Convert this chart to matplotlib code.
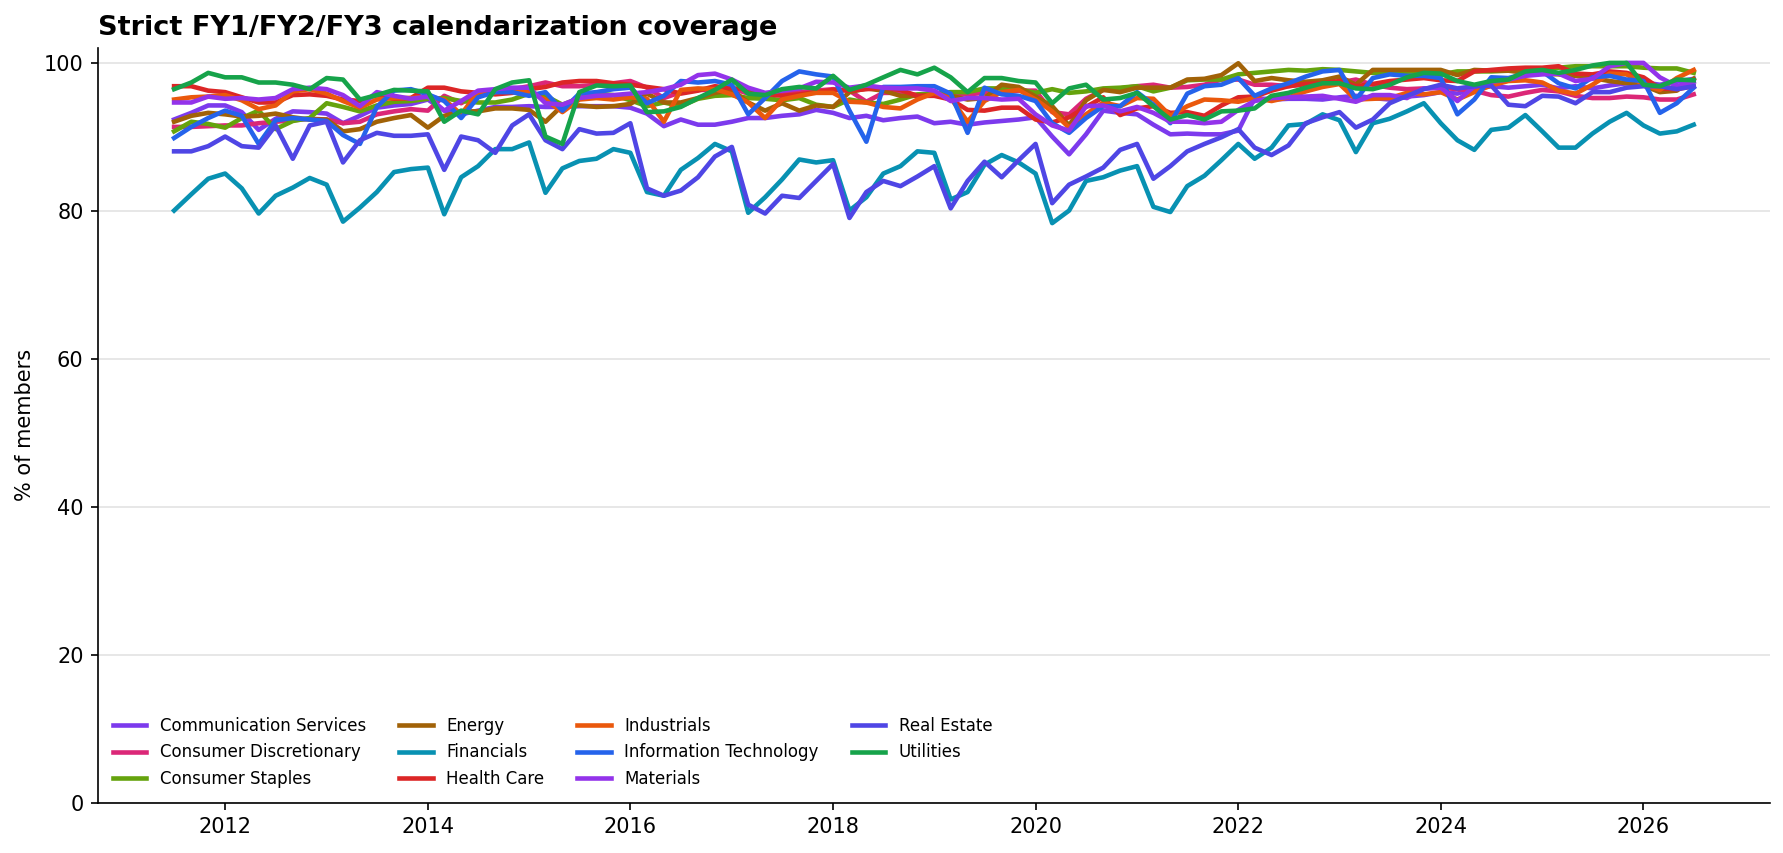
import numpy as np
import pandas as pd
import matplotlib
matplotlib.use("Agg")
import matplotlib.pyplot as plt
import matplotlib.dates as mdates

# Sampling dates: every two months, Jul 2011 .. Jul 2026
dates = pd.date_range("2011-07-01", "2026-07-01", freq="2MS")

# Coverage (% of members) per sector
comm_services = [
    92.3, 93.2, 94.2, 94.2, 93.3, 90.9, 92.4, 93.4, 93.3, 93.1, 91.8, 92.8, 93.9, 94.2, 94.4, 95.0, 93.5, 93.0, 93.5, 94.0, 94.0, 94.1, 94.0,
    94.0, 94.1, 94.1, 94.1, 93.9, 93.1, 91.4, 92.3, 91.6, 91.6, 92.0, 92.5, 92.5, 92.8, 93.0, 93.6, 93.2, 92.5, 92.8, 92.2, 92.5, 92.7, 91.8, 92.0,
    91.6, 91.9, 92.1, 92.3, 92.6, 90.0, 87.6, 90.3, 93.5, 93.2, 93.0, 91.6, 90.3, 90.4, 90.3, 90.3, 90.8, 95.2, 95.0, 95.1, 95.1, 95.0,
    95.3, 95.5, 95.2, 95.0, 95.4, 95.6, 96.0, 95.8, 96.5, 96.8, 96.6, 96.8, 97.0, 96.5, 96.8, 96.5, 96.9, 97.2, 97.3, 97.0, 97.4, 97.8,
]
consumer_disc = [
    91.3, 91.3, 91.4, 91.5, 91.5, 91.8, 92.0, 92.2, 92.4, 92.3, 91.8, 92.0, 93.0, 93.4, 93.7, 93.5, 95.5, 94.5, 95.8, 96.2, 96.4, 96.8, 97.3,
    96.8, 96.8, 97.0, 97.2, 97.5, 96.6, 95.2, 96.0, 96.3, 96.3, 96.5, 95.8, 95.3, 95.7, 96.0, 96.2, 96.4, 96.2, 94.7, 95.9, 95.9, 95.6, 95.6, 95.8,
    95.7, 95.9, 95.9, 96.2, 96.2, 93.3, 93.0, 95.1, 96.3, 96.5, 96.8, 97.0, 96.6, 96.7, 97.0, 97.7, 97.7, 97.0, 97.0, 96.8, 97.1, 97.3, 97.3,
    97.7, 97.0, 96.6, 96.4, 96.5, 96.6, 96.4, 96.2, 95.6, 95.4, 95.9, 96.3, 96.1, 95.5, 95.2, 95.2, 95.4, 95.3, 95.0, 95.0, 95.7,
]
consumer_staples = [
    90.7, 92.0, 91.7, 91.2, 92.5, 93.5, 91.0, 92.1, 92.5, 94.5, 94.0, 93.4, 94.2, 94.7, 94.8, 95.1, 95.2, 94.8, 94.6, 94.6, 95.0, 95.8, 95.5,
    94.3, 95.2, 95.8, 95.6, 94.9, 94.1, 94.6, 94.1, 95.1, 95.5, 95.6, 95.2, 95.1, 94.9, 95.2, 94.3, 94.0, 95.0, 94.6, 94.4, 95.0, 95.7, 95.8, 96.0,
    96.0, 96.5, 96.5, 96.4, 95.9, 96.4, 95.9, 96.1, 96.5, 96.6, 96.8, 96.1, 96.6, 97.6, 97.7, 97.7, 98.4, 98.6, 98.8, 99.0, 98.9, 99.1, 99.0,
    98.8, 98.6, 98.6, 98.6, 98.4, 98.4, 98.8, 98.8, 98.8, 98.9, 99.1, 99.1, 99.3, 99.5, 99.5, 99.5, 99.5, 99.3, 99.2, 99.2, 98.6,
]
energy = [
    92.0, 92.8, 93.2, 93.0, 92.7, 92.8, 93.1, 92.6, 92.3, 92.3, 90.7, 91.0, 92.0, 92.5, 92.9, 91.2, 92.8, 93.4, 93.4, 93.8, 93.8, 93.6, 92.0,
    94.2, 94.2, 94.0, 94.1, 94.4, 95.8, 94.6, 94.6, 95.2, 95.9, 96.3, 94.6, 93.5, 94.5, 93.5, 94.2, 94.0, 96.0, 96.5, 96.2, 95.5, 95.5, 95.6, 95.5,
    95.0, 95.2, 97.0, 96.7, 95.4, 94.1, 91.5, 94.9, 96.3, 96.0, 96.6, 96.6, 96.6, 97.7, 97.8, 98.3, 99.9, 97.5, 97.9, 97.6, 97.4, 97.6, 98.1,
    97.0, 99.0, 99.0, 99.0, 99.0, 99.0, 98.3, 99.0, 98.9, 98.9, 98.6, 98.5, 98.4, 98.2, 97.9, 97.5, 97.2, 96.9, 96.0, 96.2, 97.8,
]
financials = [
    80.0, 82.2, 84.3, 85.0, 83.0, 79.6, 82.0, 83.1, 84.4, 83.5, 78.5, 80.4, 82.5, 85.2, 85.6, 85.8, 79.5, 84.5, 86.0, 88.3, 88.3, 89.2, 82.4,
    85.7, 86.7, 87.0, 88.3, 87.8, 82.5, 82.0, 85.5, 87.1, 89.0, 88.0, 79.7, 81.8, 84.2, 86.9, 86.5, 86.8, 80.0, 81.8, 85.0, 86.0, 88.0, 87.8, 81.5,
    82.5, 86.2, 87.5, 86.5, 85.0, 78.3, 80.0, 84.0, 84.5, 85.4, 86.0, 80.5, 79.8, 83.3, 84.7, 86.8, 89.0, 87.0, 88.5, 91.5, 91.7, 93.0, 92.2,
    87.9, 91.8, 92.4, 93.4, 94.5, 91.8, 89.5, 88.2, 90.9, 91.2, 92.9, 90.7, 88.5, 88.5, 90.4, 92.0, 93.2, 91.5, 90.4, 90.7, 91.6,
]
health_care = [
    96.8, 96.8, 96.2, 96.0, 95.3, 94.6, 94.6, 95.6, 95.7, 95.5, 95.0, 94.8, 95.6, 95.1, 95.2, 96.6, 96.6, 96.1, 95.9, 95.7, 95.9, 96.4, 96.7,
    97.3, 97.5, 97.5, 97.2, 97.0, 96.7, 96.4, 95.8, 96.2, 96.8, 96.5, 96.4, 95.8, 95.5, 95.7, 96.0, 96.3, 96.2, 96.4, 96.6, 96.3, 95.5, 95.5, 95.0,
    93.6, 93.5, 93.9, 93.9, 92.3, 91.9, 92.6, 94.0, 95.3, 92.9, 93.8, 94.1, 93.2, 93.3, 92.8, 94.2, 95.3, 95.4, 96.2, 96.8, 97.1, 97.2, 97.5,
    96.8, 97.1, 97.5, 97.7, 97.9, 97.6, 97.5, 98.8, 99.0, 99.2, 99.3, 99.3, 99.5, 98.5, 98.4, 98.8, 98.6, 98.0, 96.5, 96.4, 96.8,
]
industrials = [
    95.0, 95.3, 95.4, 95.6, 94.9, 93.7, 94.2, 96.1, 96.4, 95.8, 94.8, 93.9, 95.0, 95.2, 95.2, 95.4, 95.0, 93.0, 96.0, 96.0, 96.2, 96.0, 95.0,
    93.3, 95.0, 95.2, 95.0, 95.3, 95.1, 92.0, 96.3, 96.5, 96.4, 95.7, 94.6, 92.5, 95.0, 95.5, 95.9, 95.9, 94.7, 94.6, 94.0, 93.8, 95.0, 95.9, 95.2,
    92.0, 94.8, 96.0, 96.3, 95.0, 93.4, 91.2, 93.0, 94.6, 94.1, 95.2, 95.1, 92.8, 94.1, 95.0, 94.9, 94.7, 95.2, 94.8, 95.3, 96.1, 96.7, 97.1,
    95.0, 95.1, 95.2, 95.9, 95.7, 96.0, 95.0, 96.0, 96.9, 97.5, 97.6, 97.3, 96.2, 95.8, 97.0, 98.5, 98.4, 97.0, 96.3, 97.9, 99.0,
]
info_tech = [
    89.8, 91.3, 92.5, 93.5, 92.8, 89.0, 92.2, 92.5, 92.3, 92.1, 90.2, 89.0, 94.0, 96.2, 96.4, 95.7, 94.8, 92.5, 95.3, 96.0, 96.0, 95.5, 96.0,
    93.5, 95.8, 96.0, 96.4, 96.6, 94.5, 95.5, 97.5, 97.3, 97.5, 97.0, 93.0, 95.2, 97.5, 98.8, 98.4, 98.1, 93.5, 89.3, 96.7, 96.7, 96.8, 96.8, 95.8,
    90.5, 96.6, 95.7, 95.5, 94.8, 91.8, 90.5, 92.5, 94.1, 94.1, 96.0, 94.3, 91.8, 95.8, 96.8, 97.0, 97.9, 95.5, 96.5, 97.2, 98.1, 98.8, 99.0,
    95.0, 97.9, 98.4, 98.2, 98.2, 97.9, 93.0, 95.0, 98.0, 97.9, 98.5, 98.8, 97.2, 96.5, 98.0, 98.2, 97.7, 97.5, 93.2, 94.5, 96.6,
]
materials = [
    94.6, 94.6, 95.4, 95.1, 95.2, 95.0, 95.2, 96.4, 96.6, 96.4, 95.6, 94.1, 96.0, 95.5, 95.1, 95.4, 93.5, 94.8, 96.2, 96.4, 96.6, 96.6, 94.5,
    94.3, 95.2, 95.5, 95.6, 95.8, 96.0, 96.4, 97.0, 98.3, 98.5, 97.7, 96.6, 95.9, 96.2, 96.5, 97.4, 97.3, 96.6, 96.9, 96.6, 96.5, 96.5, 96.2, 94.8,
    95.2, 95.2, 95.0, 95.1, 93.0, 91.5, 90.8, 94.1, 94.2, 93.4, 94.0, 93.2, 92.0, 92.0, 91.8, 92.0, 93.6, 94.8, 95.2, 95.3, 95.4, 95.5,
    95.1, 94.7, 95.6, 95.6, 95.2, 96.5, 96.6, 94.8, 96.8, 97.4, 97.7, 98.2, 98.4, 98.5, 97.5, 97.8, 99.5, 99.95, 99.95, 98.0, 96.8, 97.4,
]
real_estate = [
    88.0, 88.0, 88.7, 90.0, 88.7, 88.5, 91.5, 87.0, 91.5, 92.0, 86.5, 89.5, 90.5, 90.1, 90.1, 90.3, 85.5, 90.0, 89.5, 87.8, 91.5, 93.0, 89.5,
    88.3, 91.0, 90.4, 90.5, 91.8, 83.0, 82.0, 82.7, 84.5, 87.3, 88.6, 80.8, 79.6, 82.0, 81.7, 84.0, 86.3, 79.0, 82.5, 84.0, 83.3, 84.6, 86.0, 80.3,
    84.0, 86.6, 84.5, 86.8, 89.0, 81.0, 83.5, 84.6, 85.8, 88.2, 89.0, 84.3, 86.0, 88.0, 89.0, 89.9, 91.0, 88.5, 87.5, 88.8, 91.8, 92.6,
    93.3, 91.2, 92.3, 94.5, 95.5, 96.4, 97.0, 96.5, 96.8, 96.9, 94.3, 94.1, 95.5, 95.4, 94.5, 96.0, 96.0, 96.6, 96.8, 96.8, 96.4, 96.8,
]
utilities = [
    96.4, 97.3, 98.6, 98.0, 98.0, 97.3, 97.3, 97.0, 96.4, 97.9, 97.7, 95.0, 95.6, 96.3, 96.2, 96.1, 92.0, 93.5, 93.0, 96.4, 97.3, 97.6, 90.0,
    89.0, 96.0, 96.9, 96.8, 96.9, 93.3, 93.4, 94.0, 95.2, 96.3, 97.7, 95.8, 95.6, 96.4, 96.7, 96.5, 98.2, 96.3, 97.0, 98.0, 99.0, 98.4, 99.3, 98.0,
    96.0, 97.9, 97.9, 97.5, 97.3, 94.5, 96.5, 97.0, 95.0, 95.2, 95.9, 94.1, 92.3, 92.9, 92.3, 93.4, 93.5, 93.8, 95.5, 95.9, 96.6, 97.2, 97.2,
    96.5, 96.4, 97.0, 98.0, 98.6, 98.5, 97.5, 97.0, 97.5, 97.7, 98.8, 99.0, 98.6, 99.0, 99.6, 99.95, 99.95, 97.0, 96.8, 97.7, 97.6,
]

sectors = [
    ("Communication Services", comm_services, "#7c3aed"),
    ("Consumer Discretionary", consumer_disc, "#db2777"),
    ("Consumer Staples", consumer_staples, "#65a30d"),
    ("Energy", energy, "#a16207"),
    ("Financials", financials, "#0891b2"),
    ("Health Care", health_care, "#dc2626"),
    ("Industrials", industrials, "#ea580c"),
    ("Information Technology", info_tech, "#2563eb"),
    ("Materials", materials, "#9333ea"),
    ("Real Estate", real_estate, "#4f46e5"),
    ("Utilities", utilities, "#16a34a"),
]

fig, ax = plt.subplots(figsize=(11.893, 5.687), dpi=150)
fig.subplots_adjust(left=0.055, right=0.992, top=0.944, bottom=0.059)

for name, values, color in sectors:
    ax.plot(dates, values, color=color, linewidth=2.2, label=name)

ax.set_ylim(0, 102)
ax.set_yticks([0, 20, 40, 60, 80, 100])
ax.set_ylabel("% of members")
ax.set_title("Strict FY1/FY2/FY3 calendarization coverage",
             loc="left", fontsize=13, fontweight="bold")

ax.xaxis.set_major_locator(mdates.YearLocator(2))
ax.xaxis.set_major_formatter(mdates.DateFormatter("%Y"))

# light horizontal grid only, no top/right spines
ax.grid(axis="y", color="#e3e3e3", linewidth=0.8)
ax.set_axisbelow(True)
ax.spines["top"].set_visible(False)
ax.spines["right"].set_visible(False)

ax.legend(loc="lower left", ncol=4, frameon=False, fontsize=8)

fig.savefig("out.png", dpi=150)
